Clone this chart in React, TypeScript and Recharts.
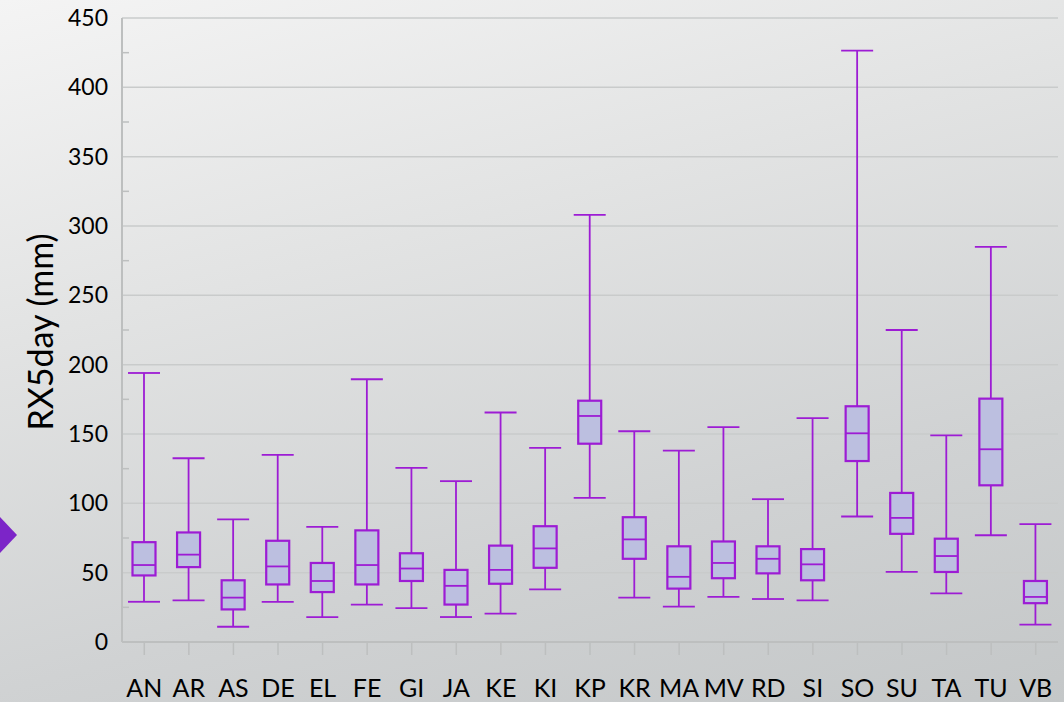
import { Bar, CartesianGrid, ComposedChart, XAxis, YAxis } from 'recharts'

const stations = ['AN', 'AR', 'AS', 'DE', 'EL', 'FE', 'GI', 'JA', 'KE', 'KI', 'KP', 'KR', 'MA', 'MV', 'RD', 'SI', 'SO', 'SU', 'TA', 'TU', 'VB']
const mins = [29, 30, 11, 29, 18, 27, 24.5, 18, 20.5, 38, 104, 32, 25.5, 32.5, 31, 30, 90.5, 50.5, 35, 77, 12.5]
const q1s = [48, 54, 23.5, 41.5, 36, 41.5, 44, 27, 42, 53.5, 143, 60, 38.5, 46, 49.5, 44.5, 130.5, 78, 50.5, 113, 28]
const medians = [55.5, 63, 32, 54.5, 44, 55.5, 53, 40.5, 52, 67.5, 163, 74, 47, 57, 60, 56, 150.5, 89.5, 62, 139, 32.5]
const q3s = [72, 79, 44.5, 73, 57, 80.5, 64, 52, 69.5, 83.5, 174, 90, 69, 72.5, 69, 67, 170, 107.5, 74.5, 175.5, 44]
const maxs = [194, 132.5, 88.5, 135, 83, 189.5, 125.5, 116, 165.5, 140, 308, 152, 138, 155, 103, 161.5, 426.5, 225, 149, 285, 85]

const majorTicks = [0, 50, 100, 150, 200, 250, 300, 350, 400, 450]
const allTicks = [0, 25, 50, 75, 100, 125, 150, 175, 200, 225, 250, 275, 300, 325, 350, 375, 400, 425, 450]

const data = stations.map((name, i) => ({
  name,
  min: mins[i],
  q1: q1s[i],
  median: medians[i],
  q3: q3s[i],
  max: maxs[i],
}))

const PURPLE = '#9d1cd4'
const BOX_FILL = '#bcbfe0'
const AXIS = '#bdbfbf'
const FONT = 'Lato, "Open Sans", sans-serif'

// draws one whole box plot inside the [min, max] range bar
function BoxShape(props: any) {
  const { x, y, width, height, payload } = props
  const top = Math.min(y, y + height)
  const h = Math.abs(height)
  const { min, q1, median, q3, max } = payload
  const py = (v: number) => top + (h * (max - v)) / (max - min)
  const cx = x + width / 2
  const bw = 23
  const bx = cx - bw / 2
  return (
    <g stroke={PURPLE} strokeWidth={1.8} fill="none">
      <line x1={x} x2={x + width} y1={py(max)} y2={py(max)} />
      <line x1={x} x2={x + width} y1={py(min)} y2={py(min)} />
      <line x1={cx} x2={cx} y1={py(max)} y2={py(q3)} />
      <line x1={cx} x2={cx} y1={py(q1)} y2={py(min)} />
      <rect x={bx} y={py(q3)} width={bw} height={py(q1) - py(q3)} fill={BOX_FILL} strokeWidth={2.2} />
      <line x1={bx} x2={bx + bw} y1={py(median)} y2={py(median)} />
    </g>
  )
}

function YTick(props: any) {
  const { x, y, payload } = props
  const axisX = x + 14
  if (payload.value % 50 !== 0) {
    return <line x1={axisX} x2={axisX + 7} y1={y} y2={y} stroke={AXIS} strokeWidth={1.5} />
  }
  return (
    <text x={x} y={y} dy={8} textAnchor="end" fontSize={23} fill="#000" fontFamily={FONT}>
      {payload.value}
    </text>
  )
}

function YLabel(props: any) {
  const { viewBox } = props
  const cx = 39
  const cy = viewBox.y + viewBox.height / 2 + 2
  return (
    <text
      x={cx}
      y={cy}
      transform={`rotate(-90, ${cx}, ${cy})`}
      textAnchor="middle"
      dominantBaseline="central"
      fontSize={34}
      fill="#000"
      fontFamily={FONT}
    >
      RX5day (mm)
    </text>
  )
}

export default function App() {
  return (
    <div
      style={{
        position: 'absolute',
        left: 0,
        top: 0,
        width: 1064,
        height: 702,
        overflow: 'hidden',
        background: 'linear-gradient(165deg, #f4f4f4 0%, #e2e3e3 35%, #d0d2d3 70%, #c4c7c8 100%)',
      }}
    >
      <svg width={20} height={702} style={{ position: 'absolute', left: 0, top: 0 }}>
        <polygon points="0,517 17,535 0,553" fill="#7c25c8" />
      </svg>
      <ComposedChart
        width={1064}
        height={702}
        data={data}
        margin={{ top: 18, right: 6, bottom: 0, left: 0 }}
        barCategoryGap={0}
      >
        <CartesianGrid
          vertical={false}
          horizontalValues={majorTicks.slice(1)}
          stroke="#c9cbcb"
          strokeWidth={1.5}
        />
        <XAxis
          dataKey="name"
          height={60}
          tickSize={13}
          tickMargin={24}
          tickLine={{ stroke: AXIS, strokeWidth: 1.5 }}
          axisLine={{ stroke: AXIS, strokeWidth: 2 }}
          tick={{ fontSize: 25, fill: '#000', fontFamily: FONT }}
          interval={0}
        />
        <YAxis
          width={122}
          domain={[0, 450]}
          ticks={allTicks}
          interval={0}
          tickSize={0}
          tickMargin={14}
          tickLine={false}
          axisLine={{ stroke: AXIS, strokeWidth: 2 }}
          tick={<YTick />}
          label={<YLabel />}
        />
        <Bar
          dataKey={(d: any) => [d.min, d.max]}
          barSize={32}
          shape={<BoxShape />}
          isAnimationActive={false}
        />
      </ComposedChart>
    </div>
  )
}
